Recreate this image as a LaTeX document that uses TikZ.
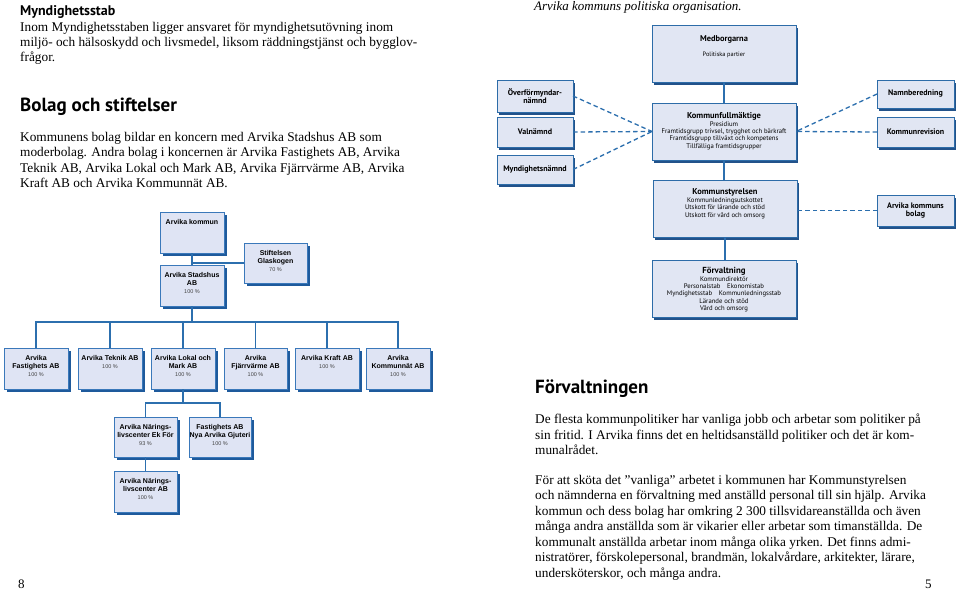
\documentclass[tikz,border=0pt]{standalone}
\usepackage{fontspec}
\setmainfont{Liberation Serif}
\newfontfamily\hfont{PT Sans}
\newfontfamily\afont{Liberation Sans}
\newfontfamily\rfont{PT Sans}
\usetikzlibrary{shadows}
\definecolor{lfill}{HTML}{DFE4F4}
\definecolor{lline}{HTML}{3A78BA}
\definecolor{lshad}{HTML}{1E5A9C}
\definecolor{rfill}{HTML}{E1E6F3}
\definecolor{rline}{HTML}{2D6CA8}
\definecolor{rshad}{HTML}{22528A}
\definecolor{conncol}{HTML}{2C6FAE}
\definecolor{pctcol}{HTML}{444444}
\newcommand\lbx[4]{\begin{minipage}[t][#2pt][t]{#1pt}\centering\afont\vspace*{7.5pt}{\fontsize{7}{8.2}\selectfont\bfseries #3\par}\vspace{1.5pt}{\fontsize{5.5}{6}\selectfont\color{pctcol}#4\par}\end{minipage}}
\newcommand\rbx[4]{\begin{minipage}[t][#2pt][t]{#1pt}\centering\rfont\vspace*{#3pt}#4\end{minipage}}
\begin{document}
\begin{tikzpicture}[x=1pt,y=-1pt,
  lbox/.style={draw=lline, line width=0.9pt, fill=lfill, inner sep=0pt, outer sep=0pt, anchor=north west,
    general shadow={fill=lshad, shadow xshift=2.5pt, shadow yshift=-2.5pt}},
  rbox/.style={draw=rline, line width=1pt, fill=rfill, inner sep=0pt, outer sep=0pt, anchor=north west,
    general shadow={fill=rshad, shadow xshift=2pt, shadow yshift=-2.5pt}},
  rsbox/.style={rbox, align=center, font=\rfont\bfseries\fontsize{8}{8.6}\selectfont},
  lconn/.style={draw=conncol, line width=1.1pt},
  rconn/.style={draw=conncol, line width=1.3pt},
  dline/.style={draw=conncol, line width=1.3pt, dash pattern=on 4.5pt off 3pt},
  body/.style={inner sep=0pt, align=left, font=\fontsize{13.3}{15.5}\selectfont},
  head/.style={inner sep=0pt, font=\hfont\bfseries\fontsize{19}{23}\selectfont}]
\useasboundingbox (0,0) rectangle (960,589);

% ---------- left text ----------
\node[inner sep=0pt, anchor=base west, font=\hfont\bfseries\fontsize{14}{16}\selectfont] (mh) at (20,15) {Myndighetsstab};
\node[body, anchor=north west, font=\fontsize{13.3}{15.3}\selectfont] (mp) at (20,21.8) {Inom Myndighetsstaben ligger ansvaret för myndighetsutövning inom\\miljö- och hälsoskydd och livsmedel, liksom räddningstjänst och bygglov-\\frågor.};
\node[head, anchor=base west] (bh) at (20,111) {Bolag och stiftelser};
\node[body, anchor=north west] (bp) at (20,132) {Kommunens bolag bildar en koncern med Arvika Stadshus AB som\\moderbolag. Andra bolag i koncernen är Arvika Fastighets AB, Arvika\\Teknik AB, Arvika Lokal och Mark AB, Arvika Fjärrvärme AB, Arvika\\Kraft AB och Arvika Kommunnät AB.};

% ---------- left chart ----------
\node[lbox] (kommun) at (160,212) {\lbx{64}{41}{Arvika kommun}{}};
\node[lbox] (glas) at (244,243) {\lbx{63}{40}{Stiftelsen\\Glaskogen}{70 \%}};
\node[lbox] (stads) at (160,265) {\lbx{64}{41}{Arvika Stadshus\\AB}{100 \%}};
\node[lbox] (fast) at (4,348) {\lbx{64}{41}{Arvika\\Fastighets AB}{100 \%}};
\node[lbox] (tekn) at (78,348) {\lbx{64}{41}{Arvika Teknik AB}{100 \%}};
\node[lbox] (lokal) at (151,348) {\lbx{64}{41}{Arvika Lokal och\\Mark AB}{100 \%}};
\node[lbox] (fjarr) at (224,348) {\lbx{63}{41}{Arvika\\Fjärrvärme AB}{100 \%}};
\node[lbox] (kraft) at (295,348) {\lbx{64}{41}{Arvika Kraft AB}{100 \%}};
\node[lbox] (knat) at (366,348) {\lbx{64}{41}{Arvika\\Kommunnät AB}{100 \%}};
\node[lbox] (ekfor) at (114,417) {\lbx{63}{40}{Arvika Närings-\\livscenter Ek För}{93 \%}};
\node[lbox] (gjut) at (189,417) {\lbx{62}{40}{Fastighets AB\\Nya Arvika Gjuteri}{100 \%}};
\node[lbox] (nlc) at (114,471) {\lbx{63}{41}{Arvika Närings-\\livscenter AB}{100 \%}};

\coordinate (bus) at (192,322);
\coordinate (bus2) at (183,403);
\draw[lconn] (kommun.south) -- (stads.north);
\draw[lconn] (kommun.south |- glas.west) -- (glas.west);
\draw[lconn] (stads.south) -- (stads.south |- bus);
\draw[lconn] (fast.north) |- (knat.north |- bus) -- (knat.north);
\foreach \n in {tekn,lokal,fjarr,kraft} \draw[lconn] (\n.north) -- (\n.north |- bus);
\draw[lconn] (lokal.south) -- (lokal.south |- bus2);
\draw[lconn] (ekfor.north) |- (gjut.north |- bus2) -- (gjut.north);
\draw[lconn] (ekfor.south) -- (nlc.north);

% ---------- right chart ----------
\node[inner sep=0pt, anchor=base west, font=\itshape\fontsize{13}{15}\selectfont] (cap) at (534,10.5) {Arvika kommuns politiska organisation.};

\node[rbox] (medb) at (652,25) {\rbx{144}{57}{11}{{\bfseries\fontsize{8.4}{9}\selectfont Medborgarna\par}\vspace{8pt}{\fontsize{6.3}{7}\selectfont Politiska partier\par}}};
\node[rbox] (kf) at (652,103) {\rbx{144}{57}{9.5}{{\bfseries\fontsize{8.5}{8.6}\selectfont Kommunfullmäktige\par}{\fontsize{6.7}{7.4}\selectfont Presidium\\Framtidsgrupp trivsel, trygghet och bärkraft\\Framtidsgrupp tillväxt och kompetens\\Tillfälliga framtidsgrupper\par}}};
\node[rbox] (ks) at (653,180) {\rbx{144}{57}{9}{{\bfseries\fontsize{8.5}{8.4}\selectfont Kommunstyrelsen\par}{\fontsize{6.7}{7.4}\selectfont Kommunledningsutskottet\\Utskott för lärande och stöd\\Utskott för vård och omsorg\par}}};
\node[rbox] (forv) at (652,260) {\rbx{144}{57}{7.5}{{\bfseries\fontsize{8.8}{8.6}\selectfont Förvaltning\par}{\fontsize{6.7}{7.3}\selectfont Kommundirektör\\Personalstab\quad Ekonomistab\\Myndighetsstab\quad Kommunledningsstab\\Lärande och stöd\\Vård och omsorg\par}}};

\node[rsbox, minimum width=76pt, minimum height=32pt] (ofn) at (497,80) {Överförmyndar-\\nämnd};
\node[rsbox, minimum width=76pt, minimum height=30pt] (valn) at (497,117) {Valnämnd};
\node[rsbox, minimum width=76pt, minimum height=29pt] (myn) at (497,155) {Myndighetsnämnd};
\node[rsbox, minimum width=77pt, minimum height=28pt] (namn) at (877,80) {Namnberedning};
\node[rsbox, minimum width=77pt, minimum height=30pt] (krev) at (877,117) {Kommunrevision};
\node[rsbox, minimum width=77pt, minimum height=31pt] (bolag) at (877,195) {Arvika kommuns\\bolag};

\draw[rconn] (medb.south) -- (kf.north);
\draw[rconn] (kf.south) -- (kf.south |- ks.north);
\draw[rconn] (ks.south) -- (ks.south |- forv.north);
\draw[dline] (ofn.east) -- (kf.west);
\draw[dline] (valn.east) -- (kf.west);
\draw[dline] (myn.east) -- (kf.west);
\draw[dline] (namn.west) -- (kf.east);
\draw[dline] (krev.west) -- (kf.east);
\draw[dline] (bolag.west) -- (bolag.west -| ks.east);

% ---------- right text ----------
\node[head, anchor=base west] (fh) at (535,393) {Förvaltningen};
\node[body, anchor=north west] (fp1) at (535,414) {De flesta kommunpolitiker har vanliga jobb och arbetar som politiker på\\sin fritid. I Arvika finns det en heltidsanställd politiker och det är kom-\\munalrådet.};
\node[body, anchor=north west] (fp2) at (535,475) {För att sköta det ”vanliga” arbetet i kommunen har Kommunstyrelsen\\och nämnderna en förvaltning med anställd personal till sin hjälp. Arvika\\kommun och dess bolag har omkring 2 300 tillsvidareanställda och även\\många andra anställda som är vikarier eller arbetar som timanställda. De\\kommunalt anställda arbetar inom många olika yrken. Det finns admi-\\nistratörer, förskolepersonal, brandmän, lokalvårdare, arkitekter, lärare,\\undersköterskor, och många andra.};

\node[inner sep=0pt, anchor=base west, font=\fontsize{13}{15}\selectfont] (pg8) at (18,588) {8};
\node[inner sep=0pt, anchor=base west, font=\fontsize{13}{15}\selectfont] (pg5) at (925,588) {5};
\end{tikzpicture}
\end{document}
